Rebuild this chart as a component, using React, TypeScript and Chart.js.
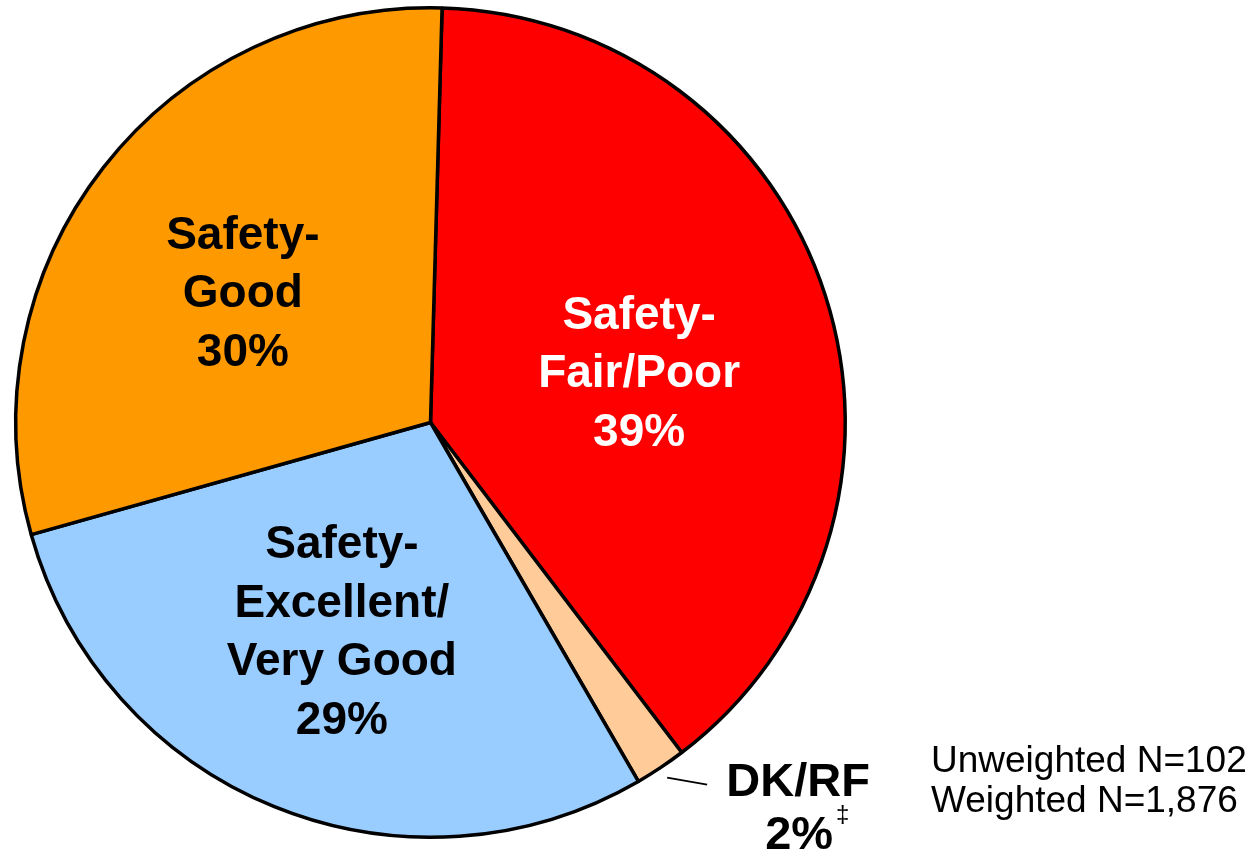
import React, { useEffect, useRef } from "react";
import { Chart, registerables } from "chart.js";

Chart.register(...registerables);

// ---- Data ----
const categories = ["Safety-Fair/Poor", "DK/RF", "Safety-Excellent/Very Good", "Safety-Good"];
const values = [39.2, 2.0, 29.0, 29.8];
const percentLabels = ["39%", "2%", "29%", "30%"];
const labelLines = [["Safety-", "Fair/Poor"], ["DK/RF"], ["Safety-", "Excellent/", "Very Good"], ["Safety-", "Good"]];
const footnoteMark = "\u2021";
const noteLines = ["Unweighted N=102", "Weighted N=1,876"];

// ---- Styles ----
const sliceColors = ["#FF0000", "#FFCC99", "#99CCFF", "#FF9900"];
const textColors = ["#FFFFFF", "#000000", "#000000", "#000000"];
const placement = [
  { inside: true, rFrac: 0.518, dAng: 4 },
  { inside: false, rFrac: 0, dAng: 0 },
  { inside: true, rFrac: 0.544, dAng: 1 },
  { inside: true, rFrac: 0.552, dAng: -3 },
];
const FONT = "'Liberation Sans', Arial, Helvetica, sans-serif";

const labelPlugin = {
  id: "sliceLabels",
  afterDatasetsDraw(chart: any) {
    const ctx = chart.ctx as CanvasRenderingContext2D;
    const meta = chart.getDatasetMeta(0);
    ctx.save();
    meta.data.forEach((arc: any, i: number) => {
      const p = arc.getProps(["x", "y", "startAngle", "endAngle", "outerRadius"], true);
      const mid = (p.startAngle + p.endAngle) / 2;
      const pl = placement[i];
      if (pl.inside) {
        const ang = mid + (pl.dAng * Math.PI) / 180;
        const cx = p.x + Math.cos(ang) * p.outerRadius * pl.rFrac;
        const cy = p.y + Math.sin(ang) * p.outerRadius * pl.rFrac;
        const lines = [...labelLines[i], percentLabels[i]];
        const size = 46;
        const lh = 58.5;
        const cap = 45 * 0.716;
        ctx.font = `bold ${size}px ${FONT}`;
        ctx.fillStyle = textColors[i];
        ctx.textAlign = "center";
        ctx.textBaseline = "alphabetic";
        const first = cy - ((lines.length - 1) / 2) * lh + cap / 2;
        lines.forEach((t, k) => ctx.fillText(t, cx, first + k * lh));
      } else {
        const r0 = p.outerRadius + 12;
        const sx = p.x + Math.cos(mid) * r0;
        const sy = p.y + Math.sin(mid) * r0;
        const ex = sx + 40;
        const ey = sy + 7;
        ctx.strokeStyle = "#000";
        ctx.lineWidth = 2;
        ctx.beginPath();
        ctx.moveTo(sx, sy);
        ctx.lineTo(ex, ey);
        ctx.stroke();
        const tx = ex + 91;
        const size = 47;
        ctx.font = `bold ${size}px ${FONT}`;
        ctx.fillStyle = textColors[i];
        ctx.textAlign = "center";
        ctx.textBaseline = "alphabetic";
        ctx.fillText(labelLines[i][0], tx, ey + 11);
        ctx.fillText(percentLabels[i], tx + 1, ey + 64);
        const w = ctx.measureText(percentLabels[i]).width;
        ctx.font = `24px ${FONT}`;
        ctx.textAlign = "left";
        ctx.fillText(footnoteMark, tx + 1 + w / 2 + 3, ey + 37);
      }
    });
    // sample size note
    ctx.font = `37px ${FONT}`;
    ctx.fillStyle = "#000";
    ctx.textAlign = "left";
    ctx.textBaseline = "alphabetic";
    noteLines.forEach((t, k) => ctx.fillText(t, 931, 772 + k * 40));
    ctx.restore();
  },
};

export default function App() {
  const ref = useRef<HTMLCanvasElement | null>(null);
  useEffect(() => {
    if (!ref.current) return;
    const chart = new Chart(ref.current, {
      type: "pie",
      data: {
        labels: categories,
        datasets: [
          {
            data: values,
            backgroundColor: sliceColors,
            borderColor: "#000000",
            borderWidth: 3.5,
          },
        ],
      },
      options: {
        animation: false,
        responsive: true,
        maintainAspectRatio: false,
        rotation: 1.6,
        layout: { padding: { left: 14, top: 6, right: 412, bottom: 12 } },
        plugins: {
          legend: { display: false },
          tooltip: { enabled: false },
        },
      },
      plugins: [labelPlugin],
    });
    return () => chart.destroy();
  }, []);
  return (
    <div style={{ position: "absolute", left: 0, top: 0, width: 1259, height: 851, background: "#fff" }}>
      <canvas ref={ref} />
    </div>
  );
}
